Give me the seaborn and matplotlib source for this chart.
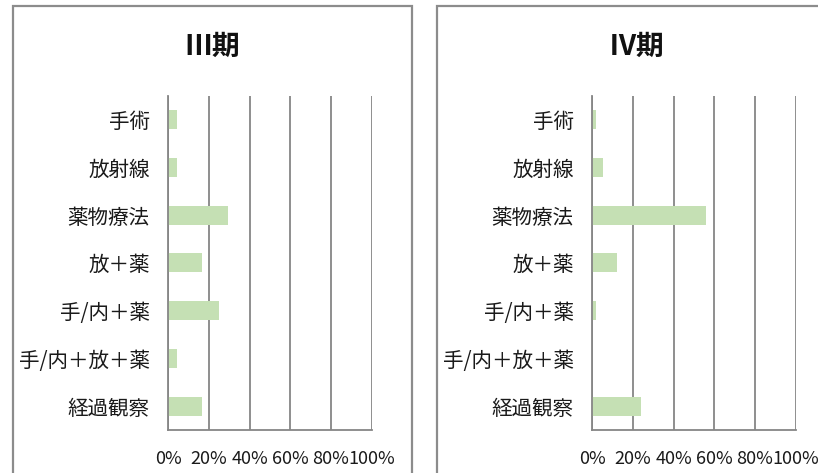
import matplotlib
matplotlib.use("Agg")
import matplotlib.pyplot as plt
from matplotlib.patches import Rectangle
import seaborn as sns
import pandas as pd

# Treatment categories (top to bottom) and share of patients per stage (%)
categories = ["手術", "放射線", "薬物療法", "放＋薬", "手/内＋薬", "手/内＋放＋薬", "経過観察"]
stage3_pct = [4.1, 4.1, 29.2, 16.7, 25.1, 4.1, 16.7]
stage4_pct = [1.6, 5.1, 56.1, 12.0, 1.6, 0.0, 23.8]
titles = ["Ⅲ期", "Ⅳ期"]
x_ticks = [0, 20, 40, 60, 80, 100]
x_tick_labels = ["0%", "20%", "40%", "60%", "80%", "100%"]

sns.set_theme(style="white")
plt.rcParams["font.family"] = ["Noto Sans CJK JP", "DejaVu Sans"]

BAR = "#C5E0B4"
GRID = "#868686"
FRAME = "#8C8C8C"

W, H = 818, 473
fig = plt.figure(figsize=(W / 100, H / 100), dpi=100)

# chart-area frames (left, top, right) in pixels
frames = [(12.7, 6, 412.5), (436.7, 6, 836.5)]
# plot-area positions in pixels: left, top, right, bottom
plots = [(168.3, 95.7, 371.7, 430), (592.3, 95.7, 795.7, 430)]

for vals, title, (fl, ft, fr), (pl, pt, pr, pb) in zip(
        [stage3_pct, stage4_pct], titles, frames, plots):
    fig.patches.append(Rectangle((fl / W, -0.1), (fr - fl) / W, 0.1 + (H - ft) / H,
                                 transform=fig.transFigure, fill=False,
                                 edgecolor=FRAME, linewidth=1.6))
    ax = fig.add_axes([pl / W, (H - pb) / H, (pr - pl) / W, (pb - pt) / H])
    df = pd.DataFrame({"treatment": categories, "pct": vals})
    sns.barplot(data=df, y="treatment", x="pct", orient="h", color=BAR,
                saturation=1, width=0.4, ax=ax, edgecolor="none")
    ax.set_xlim(0, 100)
    ax.set_ylim(len(categories) - 0.5, -0.5)
    ax.set_xticks(x_ticks)
    ax.set_xticklabels(x_tick_labels, fontsize=13, color="#1a1a1a")
    ax.tick_params(axis="x", length=0, pad=14.5)
    ax.tick_params(axis="y", length=0, pad=13.5, labelsize=14.8, labelcolor="#1a1a1a")
    ax.set_xlabel("")
    ax.set_ylabel("")
    ax.xaxis.grid(True, color=GRID, linewidth=1.3)
    ax.yaxis.grid(False)
    ax.set_axisbelow(True)
    for s in ["top", "right"]:
        ax.spines[s].set_visible(False)
    ax.spines["left"].set_color(GRID)
    ax.spines["left"].set_linewidth(1.3)
    ax.spines["bottom"].set_color(GRID)
    ax.spines["bottom"].set_linewidth(1.3)
    fig.text((fl + fr) / 2 / W, (H - 47) / H, title, ha="center", va="center",
             fontsize=20, fontweight="bold", color="#111111")

fig.savefig("out.png", dpi=100)
